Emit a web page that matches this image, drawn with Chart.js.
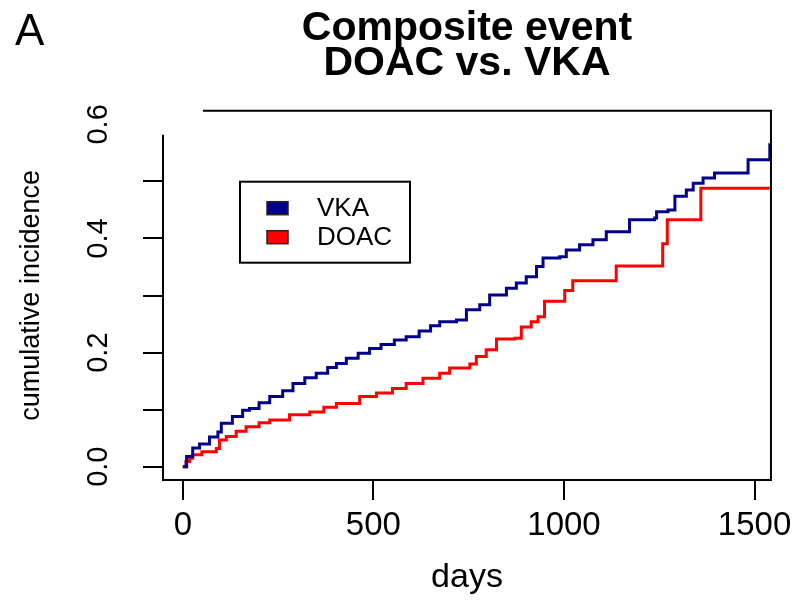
<!DOCTYPE html>
<html>
<head>
<meta charset="utf-8">
<script src="https://cdn.jsdelivr.net/npm/chart.js@4/dist/chart.umd.min.js"></script>
<style>
  html, body { margin: 0; padding: 0; background: #fff; }
  #wrap { width: 798px; height: 603px; position: relative; }
</style>
</head>
<body>
<div id="wrap"><canvas id="chart"></canvas></div>
<script>
Chart.defaults.font.family = "'Liberation Sans', Arial, Helvetica, sans-serif"
Chart.defaults.color = '#000'

// cumulative incidence, step curves (day of jump -> new level)
const vkaDays = [0, 10, 26, 44, 70, 92, 101, 130, 157, 175, 200, 228, 262, 289, 320, 350, 380, 403, 429, 460, 490, 520, 555, 586, 620, 650, 674, 718, 744, 779, 805, 849, 875, 901, 928, 945, 989, 1006, 1041, 1076, 1111, 1172, 1238, 1243, 1273, 1291, 1321, 1339, 1365, 1395, 1483, 1540]
const vkaValues = [0, 0.018, 0.033, 0.040, 0.052, 0.061, 0.076, 0.088, 0.099, 0.102, 0.112, 0.123, 0.133, 0.146, 0.156, 0.164, 0.174, 0.181, 0.190, 0.199, 0.207, 0.214, 0.222, 0.228, 0.238, 0.247, 0.254, 0.257, 0.275, 0.284, 0.301, 0.313, 0.322, 0.333, 0.351, 0.366, 0.368, 0.380, 0.389, 0.398, 0.412, 0.433, 0.436, 0.447, 0.450, 0.474, 0.485, 0.497, 0.506, 0.515, 0.538, 0.567]

const doacDays = [0, 8, 18, 26, 50, 88, 96, 114, 140, 166, 200, 228, 280, 333, 370, 403, 464, 508, 550, 586, 630, 674, 700, 753, 770, 796, 823, 871, 888, 914, 932, 949, 1002, 1023, 1137, 1259, 1271, 1359, 1540]
const doacValues = [0, 0.009, 0.015, 0.021, 0.026, 0.032, 0.047, 0.053, 0.062, 0.070, 0.077, 0.082, 0.091, 0.096, 0.104, 0.111, 0.123, 0.129, 0.137, 0.146, 0.155, 0.164, 0.173, 0.180, 0.193, 0.205, 0.224, 0.225, 0.245, 0.254, 0.263, 0.290, 0.309, 0.326, 0.352, 0.391, 0.433, 0.488, 0.488]

const xTicks = [0, 500, 1000, 1500]
const yTicks = [0, 0.1, 0.2, 0.3, 0.4, 0.5, 0.6]

const toPoints = (days, vals) => days.map((d, i) => ({ x: d, y: vals[i] }))

// box round the plot, panel letter and the legend
const extras = {
    id: 'extras',
    afterDraw(chart) {
        const { ctx, chartArea: a } = chart
        ctx.save()
        ctx.strokeStyle = '#000'
        ctx.lineWidth = 2
        ctx.beginPath()
        ctx.moveTo(a.left + 40, a.top)
        ctx.lineTo(a.right, a.top)
        ctx.lineTo(a.right, a.bottom)
        ctx.lineTo(a.left, a.bottom)
        ctx.lineTo(a.left, a.top + 24)
        ctx.stroke()

        ctx.fillStyle = '#000'
        ctx.font = "44px 'Liberation Sans', Arial, sans-serif"
        ctx.textBaseline = 'alphabetic'
        ctx.fillText('A', 15, 45)

        // legend
        const lx = a.left + 77, ly = a.top + 71
        ctx.fillStyle = '#fff'
        ctx.fillRect(lx, ly, 170, 81)
        ctx.strokeRect(lx, ly, 170, 81)
        ctx.font = "26px 'Liberation Sans', Arial, sans-serif"
        ctx.textBaseline = 'middle'
        chart.data.datasets.forEach((ds, i) => {
            const cy = ly + 26 + i * 29
            ctx.fillStyle = ds.borderColor
            ctx.fillRect(lx + 27, cy - 6, 21, 13)
            ctx.lineWidth = 1.5
            ctx.strokeStyle = '#222'
            ctx.strokeRect(lx + 27, cy - 6, 21, 13)
            ctx.fillStyle = '#000'
            ctx.fillText(ds.label, lx + 77, cy + 1)
        })
        ctx.restore()
    }
}

new Chart('chart', {
    type: 'line',
    data: {
        datasets: [
            { label: 'VKA', data: toPoints(vkaDays, vkaValues), borderColor: '#00008B', borderWidth: 3, stepped: true, pointRadius: 0 },
            { label: 'DOAC', data: toPoints(doacDays, doacValues), borderColor: '#FF0000', borderWidth: 3, stepped: true, pointRadius: 0 }
        ]
    },
    options: {
        responsive: true,
        maintainAspectRatio: false,
        animation: false,
        layout: { padding: { top: 0, right: 27, bottom: 0, left: 0 } },
        plugins: {
            legend: { display: false },
            tooltip: { enabled: false },
            title: {
                display: true,
                fullSize: false,
                text: ['Composite event', 'DOAC vs. VKA'],
                font: { size: 41, weight: 'bold', lineHeight: 0.85 },
                color: '#000',
                padding: { top: 11, bottom: 30 }
            }
        },
        scales: {
            x: {
                type: 'linear',
                min: -52,
                max: 1543,
                afterBuildTicks: s => { s.ticks = xTicks.map(v => ({ value: v })) },
                afterFit: s => { s.height = 123 },
                border: { display: false },
                grid: { drawOnChartArea: false, drawTicks: true, tickLength: 20, color: '#000', lineWidth: 2 },
                ticks: { font: { size: 33 }, padding: 6, maxRotation: 0, autoSkip: false, callback: v => String(v) },
                title: { display: true, text: 'days', font: { size: 34 }, padding: { top: 0, bottom: 5 } }
            },
            y: {
                min: -0.0233,
                max: 0.624,
                afterBuildTicks: s => { s.ticks = yTicks.map(v => ({ value: v })) },
                afterFit: s => { s.width = 163 },
                border: { display: false },
                grid: {
                    drawOnChartArea: false, drawTicks: true, tickLength: 20, lineWidth: 2,
                    color: c => (c.tick && c.tick.value > 0.55 ? 'rgba(0,0,0,0)' : '#000')
                },
                ticks: {
                    font: { size: 29 },
                    minRotation: 90,
                    maxRotation: 90,
                    crossAlign: 'center',
                    padding: 24,
                    autoSkip: false,
                    callback: v => (Math.round(v * 10) % 2 === 0 ? v.toFixed(1) : '')
                },
                title: { display: true, text: 'cumulative incidence', font: { size: 27 }, padding: { top: 15, bottom: 0 } }
            }
        }
    },
    plugins: [extras]
})
</script>
</body>
</html>
